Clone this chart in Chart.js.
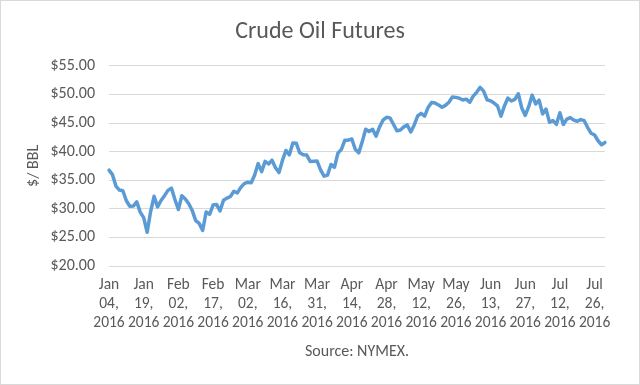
<!DOCTYPE html>
<html>
<head>
<meta charset="utf-8">
<script src="https://cdn.jsdelivr.net/npm/chart.js@4.4.0/dist/chart.umd.min.js"></script>
<style>
  html, body { margin: 0; padding: 0; background: #ffffff; }
  #wrap { width: 640px; height: 385px; position: relative; }
</style>
</head>
<body>
<div id="wrap"><canvas id="grafico" width="640" height="385"></canvas></div>
<script>
// Textos do gráfico
const titulo = "Crude Oil Futures";
const tituloY = "$/ BBL";
const tituloX = "Source: NYMEX.";

// Eixo Y
const yMin = 20;
const yMax = 55;
const yPasso = 5;

// Dias de pregão (categorias)
const datas = [
  "Jan 04, 2016", "Jan 05, 2016", "Jan 06, 2016", "Jan 07, 2016", "Jan 08, 2016",
  "Jan 11, 2016", "Jan 12, 2016", "Jan 13, 2016", "Jan 14, 2016", "Jan 15, 2016",
  "Jan 19, 2016", "Jan 20, 2016", "Jan 21, 2016", "Jan 22, 2016",
  "Jan 25, 2016", "Jan 26, 2016", "Jan 27, 2016", "Jan 28, 2016", "Jan 29, 2016",
  "Feb 01, 2016", "Feb 02, 2016", "Feb 03, 2016", "Feb 04, 2016", "Feb 05, 2016",
  "Feb 08, 2016", "Feb 09, 2016", "Feb 10, 2016", "Feb 11, 2016", "Feb 12, 2016",
  "Feb 16, 2016", "Feb 17, 2016", "Feb 18, 2016", "Feb 19, 2016",
  "Feb 22, 2016", "Feb 23, 2016", "Feb 24, 2016", "Feb 25, 2016", "Feb 26, 2016",
  "Feb 29, 2016", "Mar 01, 2016", "Mar 02, 2016", "Mar 03, 2016", "Mar 04, 2016",
  "Mar 07, 2016", "Mar 08, 2016", "Mar 09, 2016", "Mar 10, 2016", "Mar 11, 2016",
  "Mar 14, 2016", "Mar 15, 2016", "Mar 16, 2016", "Mar 17, 2016", "Mar 18, 2016",
  "Mar 21, 2016", "Mar 22, 2016", "Mar 23, 2016", "Mar 24, 2016",
  "Mar 28, 2016", "Mar 29, 2016", "Mar 30, 2016", "Mar 31, 2016", "Apr 01, 2016",
  "Apr 04, 2016", "Apr 05, 2016", "Apr 06, 2016", "Apr 07, 2016", "Apr 08, 2016",
  "Apr 11, 2016", "Apr 12, 2016", "Apr 13, 2016", "Apr 14, 2016", "Apr 15, 2016",
  "Apr 18, 2016", "Apr 19, 2016", "Apr 20, 2016", "Apr 21, 2016", "Apr 22, 2016",
  "Apr 25, 2016", "Apr 26, 2016", "Apr 27, 2016", "Apr 28, 2016", "Apr 29, 2016",
  "May 02, 2016", "May 03, 2016", "May 04, 2016", "May 05, 2016", "May 06, 2016",
  "May 09, 2016", "May 10, 2016", "May 11, 2016", "May 12, 2016", "May 13, 2016",
  "May 16, 2016", "May 17, 2016", "May 18, 2016", "May 19, 2016", "May 20, 2016",
  "May 23, 2016", "May 24, 2016", "May 25, 2016", "May 26, 2016", "May 27, 2016",
  "Jun 01, 2016", "Jun 02, 2016", "Jun 03, 2016",
  "Jun 06, 2016", "Jun 07, 2016", "Jun 08, 2016", "Jun 09, 2016", "Jun 10, 2016",
  "Jun 13, 2016", "Jun 14, 2016", "Jun 15, 2016", "Jun 16, 2016", "Jun 17, 2016",
  "Jun 20, 2016", "Jun 21, 2016", "Jun 22, 2016", "Jun 23, 2016", "Jun 24, 2016",
  "Jun 27, 2016", "Jun 28, 2016", "Jun 29, 2016", "Jun 30, 2016", "Jul 01, 2016",
  "Jul 05, 2016", "Jul 06, 2016", "Jul 07, 2016", "Jul 08, 2016",
  "Jul 11, 2016", "Jul 12, 2016", "Jul 13, 2016", "Jul 14, 2016", "Jul 15, 2016",
  "Jul 18, 2016", "Jul 19, 2016", "Jul 20, 2016", "Jul 21, 2016", "Jul 22, 2016",
  "Jul 25, 2016", "Jul 26, 2016", "Jul 27, 2016", "Jul 28, 2016", "Jul 29, 2016",
];

// Preço de fechamento ($/BBL)
const precos = [
  36.76, 35.97, 33.97, 33.27, 33.16, 31.41, 30.44, 30.48, 31.20, 29.42,
  28.46, 25.90, 29.53, 32.19, 30.34, 31.45, 32.30, 33.22, 33.62,
  31.62, 29.88, 32.28, 31.72, 30.89, 29.69, 27.94, 27.45, 26.21, 29.44,
  29.04, 30.66, 30.77, 29.64, 31.48, 31.87, 32.15, 33.07, 32.78, 33.75,
  34.40, 34.66, 34.57, 35.92, 37.90, 36.50, 38.29, 37.84, 38.50,
  37.18, 36.34, 38.46, 40.20, 39.44, 41.52, 41.45, 39.79, 39.46,
  39.39, 38.28, 38.32, 38.34, 36.79, 35.70, 35.89, 37.75, 37.26, 39.72,
  40.40, 42.00, 42.00, 42.20, 40.40, 39.78, 41.70, 43.90, 43.50, 43.90,
  42.70, 44.30, 45.50, 46.00, 45.90, 44.78, 43.65, 43.78, 44.32, 44.66,
  43.44, 44.66, 46.23, 46.70, 46.21, 47.72, 48.60, 48.50, 48.16, 47.75,
  48.08, 48.62, 49.56, 49.48, 49.33, 49.01, 49.17, 48.62,
  49.69, 50.36, 51.23, 50.56, 49.07, 48.88, 48.49, 48.01, 46.21, 47.98,
  49.37, 48.85, 49.13, 50.11, 47.64, 46.33, 47.85, 49.88, 48.33, 48.99,
  46.60, 47.43, 45.14, 45.41, 44.76, 46.80, 44.75, 45.68, 45.95,
  45.50, 45.30, 45.60, 45.40, 44.20, 43.20, 42.90, 41.90, 41.20, 41.60,
];

// Rótulo a cada 10 pregões
const intervaloRotulo = 10;

const corTexto = "#595959";
const corGrade = "#d9d9d9";
const fonte = "Carlito, Lato, 'Open Sans', sans-serif";

// Fundo branco e borda da área do gráfico
const bordaPlugin = {
  id: "borda",
  beforeDraw(chart) {
    const ctx = chart.ctx;
    ctx.save();
    ctx.fillStyle = "#ffffff";
    ctx.fillRect(0, 0, chart.width, chart.height);
    ctx.strokeStyle = corGrade;
    ctx.lineWidth = 1;
    ctx.strokeRect(0.5, 0.5, chart.width - 1, chart.height - 1);
    ctx.restore();
  },
};

const config = {
  type: "line",
  data: {
    labels: datas,
    datasets: [
      {
        label: "Crude Oil Futures",
        data: precos,
        borderColor: "#5b9bd5",
        borderWidth: 3.5,
        pointRadius: 0,
        tension: 0,
        fill: false,
        borderJoinStyle: "round",
        borderCapStyle: "round",
      },
    ],
  },
  options: {
    responsive: false,
    animation: false,
    layout: { padding: 0 },
    plugins: {
      legend: { display: false },
      tooltip: { enabled: false },
      title: {
        display: true,
        text: titulo,
        color: corTexto,
        font: { family: fonte, size: 24, weight: "normal", lineHeight: 1.2 },
        padding: { top: 18, bottom: 19 },
      },
    },
    scales: {
      x: {
        grid: { display: false, drawTicks: false },
        border: { display: false },
        ticks: {
          autoSkip: false,
          maxRotation: 0,
          minRotation: 0,
          padding: 10,
          color: corTexto,
          font: { family: fonte, size: 15.5, lineHeight: 1.22 },
          callback: function (value, index) {
            if (index % intervaloRotulo !== 0) return "";
            return datas[index].split(" ");
          },
        },
        title: {
          display: true,
          text: tituloX,
          color: corTexto,
          font: { family: fonte, size: 16, lineHeight: 1.2 },
          padding: { top: 0, bottom: 23 },
        },
        afterFit: function (scale) {
          scale.height = 119;
        },
      },
      y: {
        min: yMin,
        max: yMax,
        grid: { color: corGrade, lineWidth: 1, drawTicks: false },
        border: { display: false },
        ticks: {
          stepSize: yPasso,
          padding: 14,
          color: corTexto,
          font: { family: fonte, size: 16 },
          callback: function (value) {
            return "$" + value.toFixed(2);
          },
        },
        title: {
          display: true,
          text: tituloY,
          color: corTexto,
          font: { family: fonte, size: 16, lineHeight: 1.2 },
          padding: { top: 24, bottom: 0 },
        },
        afterFit: function (scale) {
          scale.width = 109;
        },
      },
      // espaço vazio à direita da área de plotagem
      margemDireita: {
        type: "linear",
        position: "right",
        grid: { display: false, drawTicks: false },
        border: { display: false },
        ticks: { display: false },
        afterFit: function (scale) {
          scale.width = 35;
        },
      },
    },
  },
  plugins: [bordaPlugin],
};

window.graficoPetroleo = new Chart(document.getElementById("grafico"), config);
</script>
</body>
</html>
